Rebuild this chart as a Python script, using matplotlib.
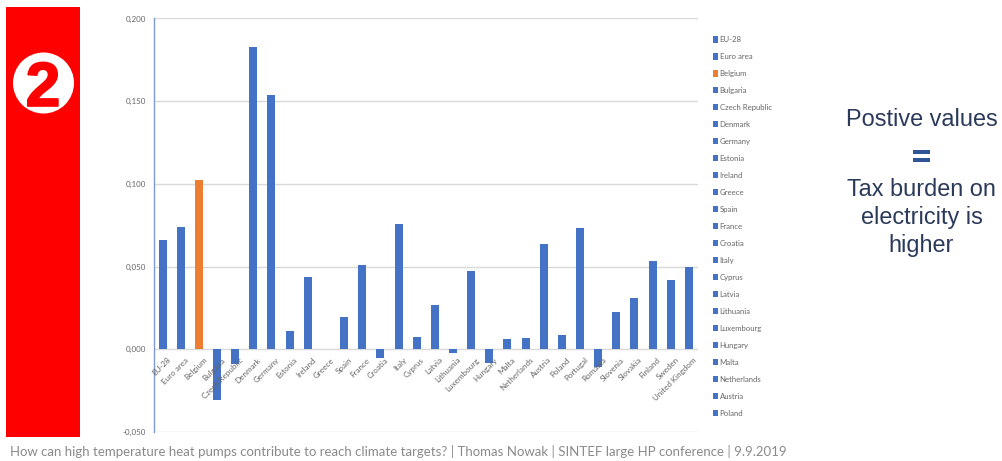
import matplotlib
matplotlib.use("Agg")
import matplotlib.pyplot as plt
import matplotlib.patheffects as pe
from matplotlib.patches import Rectangle, Circle, Patch

W, H = 1003, 461

countries = ["EU-28", "Euro area", "Belgium", "Bulgaria", "Czech Republic", "Denmark",
             "Germany", "Estonia", "Ireland", "Greece", "Spain", "France", "Croatia",
             "Italy", "Cyprus", "Latvia", "Lithuania", "Luxembourg", "Hungary", "Malta",
             "Netherlands", "Austria", "Poland", "Portugal", "Romania", "Slovenia",
             "Slovakia", "Finland", "Sweden", "United Kingdom"]
tax_gap = [0.066, 0.074, 0.1025, -0.0305, -0.009, 0.1825,
           0.154, 0.011, 0.044, 0.0, 0.0195, 0.051, -0.0055,
           0.0755, 0.0075, 0.027, -0.0025, 0.0475, -0.0085, 0.006,
           0.007, 0.0635, 0.0085, 0.0735, -0.0105, 0.0225,
           0.031, 0.0535, 0.042, 0.05]
y_ticks = [-0.05, 0.0, 0.05, 0.10, 0.15, 0.20]
legend_count = 23

BLUE = "#4472C4"
ORANGE = "#ED7D31"
GREY = "#666666"
GRID = "#d9d9d9"
NAVY = "#2b3a5a"

plt.rcParams["font.family"] = ["Lato", "DejaVu Sans"]

fig = plt.figure(figsize=(W / 100, H / 100), dpi=100, facecolor="white")

# Pixel-addressed layer for the slide furniture
slide = fig.add_axes([0, 0, 1, 1], zorder=0)
slide.set_xlim(0, W)
slide.set_ylim(H, 0)
slide.axis("off")
slide.add_patch(Rectangle((6, 7), 74, 430, facecolor="#FF0000", edgecolor="none"))
slide.add_patch(Circle((43.5, 83), 30.5, facecolor="white", edgecolor="none"))
slide.text(43, 106, "2", color="#FF0000", fontsize=45, fontweight="bold",
           family="Liberation Sans", ha="center", va="baseline",
           path_effects=[pe.withStroke(linewidth=1.2, foreground="#FF0000")])

slide.text(10, 451, "How can high temperature heat pumps contribute to reach climate targets? "
           "| Thomas Nowak | SINTEF large HP conference | 9.9.2019",
           color="#8a8a8a", fontsize=9.55, ha="left", va="center")

side_font = dict(color=NAVY, fontsize=16.9, family="Liberation Sans", ha="center", va="center")
slide.text(921.5, 119, "Postive values", **side_font)
slide.add_patch(Rectangle((913, 150), 17, 4, facecolor="#2F5597", edgecolor="none"))
slide.add_patch(Rectangle((913, 158), 17, 4, facecolor="#2F5597", edgecolor="none"))
slide.text(921.5, 189, "Tax burden on", **side_font)
slide.text(921.5, 217, "electricity is", **side_font)
slide.text(921.5, 245, "higher", **side_font)

# Bar chart
left, right, top, bottom = 153.5, 698, 18.5, 432
ax = fig.add_axes([left / W, 1 - bottom / H, (right - left) / W, (bottom - top) / H], zorder=1)
ax.patch.set_alpha(0)
colors = [ORANGE if c == "Belgium" else BLUE for c in countries]
positions = list(range(len(countries)))
ax.bar(positions, tax_gap, width=0.44, color=colors, zorder=3)
ax.set_xlim(-0.5, len(countries) - 0.5)
ax.set_ylim(-0.05, 0.20)
ax.set_yticks(y_ticks)
ax.set_yticklabels([f"{v:.3f}".replace(".", ",") for v in y_ticks], fontsize=5.8, color=GREY)
ax.tick_params(axis="y", length=0, pad=5.5)
ax.grid(axis="y", color=GRID, linewidth=1, zorder=0)
for side in ("top", "right", "bottom"):
    ax.spines[side].set_visible(False)
ax.spines["left"].set_color("#7f9bd0")
ax.spines["left"].set_linewidth(1)

# Category labels sit just under the zero line, not at the axis bottom
ax.set_xticks([])
for x, name in zip(positions, countries):
    ax.annotate(name, xy=(x, 0), xytext=(3, -5), textcoords="offset points",
                rotation=45, rotation_mode="anchor", ha="right", va="top",
                fontsize=5.8, color=GREY, zorder=4)

handles = [Patch(facecolor=c, edgecolor="none") for c in colors[:legend_count]]
leg = fig.legend(handles, countries[:legend_count], loc="upper left",
                 bbox_to_anchor=(713 / W, 1 - 36 / H), bbox_transform=fig.transFigure,
                 frameon=False, fontsize=5.6, labelcolor=GREY, handlelength=0.7,
                 handleheight=0.9, handletextpad=0.15, borderpad=0, borderaxespad=0,
                 labelspacing=1.283)

fig.savefig("out.png", dpi=100, facecolor="white")
